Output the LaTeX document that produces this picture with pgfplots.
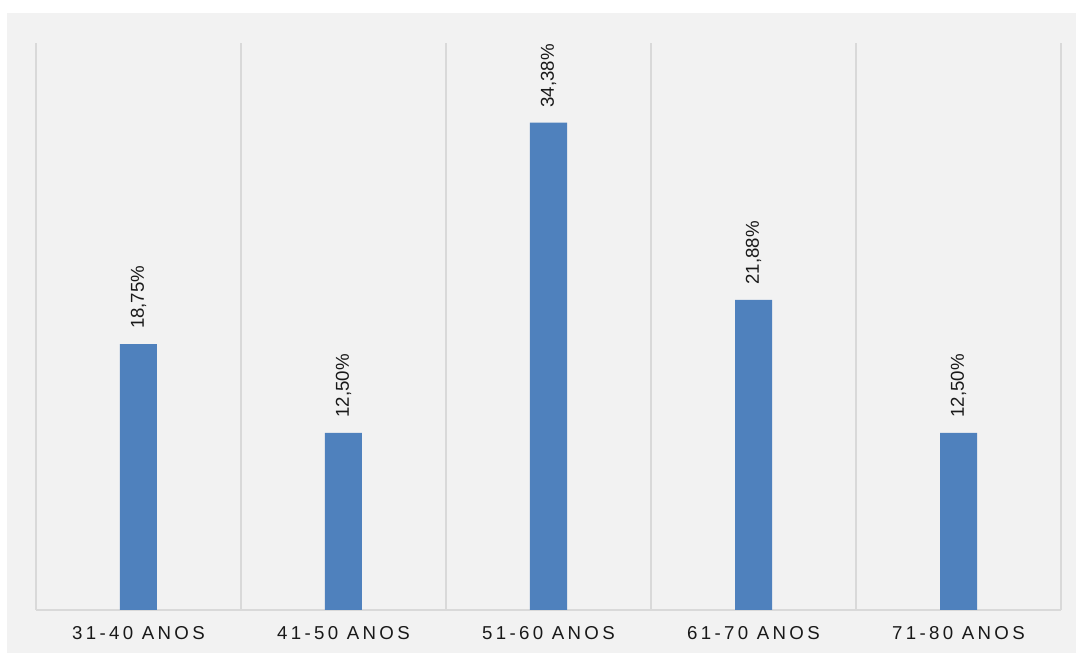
\documentclass[border=0pt]{standalone}
\usepackage{pgfplots}
\pgfplotsset{compat=1.18}
\usepackage{fontspec}
\setmainfont{Liberation Sans}
\definecolor{bg}{HTML}{F2F2F2}
\definecolor{gridc}{HTML}{D9D9D9}
\definecolor{barc}{HTML}{4F81BD}
\begin{document}
\begin{tikzpicture}[x=0.75pt,y=0.75pt]
\fill[white] (0,0) rectangle (1076,653);
\fill[bg] (7,0) rectangle (1076,640);
\begin{axis}[
  at={(27pt,32.25pt)}, anchor=south west,
  scale only axis, width=768.75pt, height=425.25pt,
  xmin=-0.5, xmax=4.5, ymin=0, ymax=40,
  axis x line*=bottom, axis y line=none,
  x axis line style={draw=gridc, line width=1pt, -},
  xtick={0,1,2,3,4},
  xticklabels={31-40 ANOS,41-50 ANOS,51-60 ANOS,61-70 ANOS,71-80 ANOS},
  major tick length=0pt, minor tick length=0pt,
  minor xtick={-0.5,0.5,1.5,2.5,3.5,4.5},
  xminorgrids, minor grid style={draw=gridc, line width=1pt},
  ytick=\empty,
  xticklabel style={font=\fontsize{14}{16}\selectfont\addfontfeature{LetterSpace=18}, anchor=base, inner sep=0pt, yshift=-22.5pt, text=black!90},
  ybar, bar width=27.75pt,
  point meta=explicit symbolic,
  nodes near coords,
  nodes near coords style={font=\fontsize{14}{16}\selectfont, rotate=90, anchor=west, inner xsep=11.25pt, inner ysep=0pt, text=black!90},
  clip=false,
]
\addplot[fill=barc, draw=none] coordinates {
  (0,18.75) [18,75\%]
  (1,12.50) [12,50\%]
  (2,34.38) [34,38\%]
  (3,21.88) [21,88\%]
  (4,12.50) [12,50\%]
};
\end{axis}
\pgfresetboundingbox
\useasboundingbox (0,0) rectangle (1076,653);
\end{tikzpicture}
\end{document}
